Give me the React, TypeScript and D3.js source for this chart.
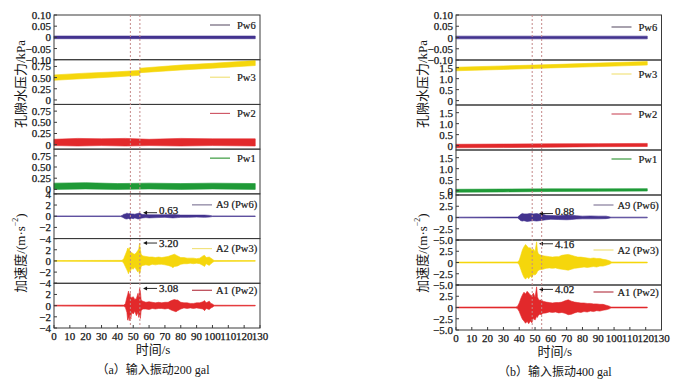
import React from 'react'
import * as d3 from 'd3'

// each row: time (s), lower envelope, upper envelope
type Row = [number, number, number]

const TIME_TICKS = [0, 10, 20, 30, 40, 50, 60, 70, 80, 90, 100, 110, 120, 130]
const MARKER_TIMES = [48.2, 54.2]

const PW6_TICKS = [-0.1, -0.05, 0, 0.05, 0.1]
const PW_TICKS_200 = [0, 0.25, 0.5, 0.75]
const PW_TICKS_400 = [0, 0.5, 1.0, 1.5]
const ACC_TICKS_200 = [-4, -2, 0, 2, 4]
const ACC_TICKS_400 = [-5, -2.5, 0, 2.5, 5]

const LEGENDS = ['Pw6', 'Pw3', 'Pw2', 'Pw1', 'A9 (Pw6)', 'A2 (Pw3)', 'A1 (Pw2)']
const PEAKS_200 = [0.63, 3.2, 3.08]
const PEAKS_400 = [0.88, 4.16, 4.02]

// ---- (a) 200 gal ----
const PW6_200: Row[] = [[0, -0.006, 0.006], [127, -0.006, 0.006]]
const PW3_200: Row[] = [[0, 0.44, 0.56], [20, 0.48, 0.6], [40, 0.52, 0.63], [54, 0.55, 0.66], [54.3, 0.61, 0.71], [80, 0.67, 0.78], [100, 0.71, 0.82], [127, 0.77, 0.88]]
const PW2_200: Row[] = [[0, -0.02, 0.12], [15, -0.03, 0.14], [30, -0.02, 0.13], [45, -0.03, 0.14], [60, -0.02, 0.12], [80, -0.03, 0.14], [100, -0.02, 0.13], [127, -0.03, 0.13]]
const PW1_200: Row[] = [[0, 0.0, 0.14], [20, 0.01, 0.15], [40, 0.0, 0.13], [60, 0.01, 0.14], [80, 0.0, 0.13], [100, 0.01, 0.14], [127, 0.0, 0.13]]
const A9_200: Row[] = [
  [0, -0.05, 0.05], [42, -0.06, 0.06], [43, -0.15, 0.15], [44, -0.3, 0.35], [45, -0.45, 0.4], [46, -0.5, 0.55],
  [47, -0.4, 0.45], [48, -0.55, 0.5], [49, -0.35, 0.4], [50, -0.45, 0.4], [51, -0.3, 0.35], [52, -0.4, 0.45],
  [53, -0.5, 0.5], [54, -0.45, 0.6], [55, -0.35, 0.4], [56, -0.3, 0.3], [58, -0.25, 0.3], [60, -0.3, 0.25],
  [65, -0.25, 0.25], [70, -0.2, 0.25], [75, -0.3, 0.3], [78, -0.25, 0.25], [80, -0.2, 0.2], [85, -0.2, 0.2],
  [90, -0.15, 0.2], [95, -0.2, 0.2], [98, -0.15, 0.15], [100, -0.06, 0.06], [127, -0.05, 0.05],
]
const A2_200: Row[] = [
  [0, -0.07, 0.07], [43, -0.1, 0.1], [44, -0.4, 0.4], [45, -1.0, 1.1], [46, -1.6, 1.8], [46.5, -1.9, 2.3],
  [47, -2.3, 2.0], [47.5, -1.7, 2.4], [48, -2.0, 1.6], [49, -1.3, 1.5], [50, -1.5, 1.3], [51, -1.1, 1.2],
  [52, -1.6, 1.5], [53, -2.0, 1.9], [53.5, -1.5, 2.2], [54, -2.4, 3.2], [54.5, -1.8, 2.0], [55, -1.0, 1.2],
  [56, -0.8, 0.9], [58, -0.7, 0.8], [60, -0.8, 0.7], [62, -0.6, 0.7], [64, -0.7, 0.6], [66, -0.6, 0.7],
  [68, -0.6, 0.6], [70, -0.7, 0.7], [72, -0.8, 0.8], [74, -1.0, 1.0], [75, -1.2, 1.1], [76, -1.0, 1.2],
  [78, -0.9, 0.9], [80, -0.6, 0.6], [82, -0.5, 0.6], [84, -0.5, 0.5], [86, -0.4, 0.5], [88, -0.5, 0.5],
  [90, -0.4, 0.4], [92, -0.5, 0.5], [94, -0.8, 0.9], [95, -1.0, 1.0], [96, -0.5, 0.6], [98, -0.8, 0.7],
  [99, -0.5, 0.5], [100, -0.3, 0.3], [101, -0.08, 0.08], [127, -0.06, 0.06],
]
const A1_200: Row[] = [
  [0, -0.08, 0.08], [44, -0.1, 0.1], [45, -0.3, 0.3], [46, -1.2, 1.5], [46.5, -2.6, 2.0], [47, -2.0, 2.6],
  [47.5, -2.7, 1.8], [48, -1.6, 2.2], [48.5, -2.4, 1.5], [49, -1.2, 1.4], [50, -1.5, 1.6], [51, -1.0, 1.1],
  [52, -1.8, 1.3], [53, -1.2, 2.2], [53.5, -2.1, 1.4], [54, -1.5, 3.08], [54.5, -2.3, 2.6], [55, -0.9, 1.0],
  [56, -0.6, 0.8], [58, -0.6, 0.6], [60, -0.7, 0.7], [62, -0.5, 0.6], [64, -0.6, 0.5], [66, -0.5, 0.6],
  [68, -0.5, 0.5], [70, -0.6, 0.6], [72, -0.5, 0.6], [74, -0.8, 0.9], [76, -1.0, 1.1], [77, -1.1, 1.0],
  [78, -0.9, 1.0], [80, -0.6, 0.6], [82, -0.4, 0.5], [84, -0.5, 0.5], [86, -0.4, 0.4], [88, -0.5, 0.4],
  [90, -0.4, 0.5], [92, -0.5, 0.5], [94, -0.6, 0.7], [95, -0.9, 0.9], [96, -0.5, 0.5], [98, -0.7, 0.8],
  [99, -0.4, 0.4], [100, -0.3, 0.3], [101, -0.08, 0.08], [127, -0.06, 0.06],
]

// ---- (b) 400 gal ----
const PW6_400: Row[] = [[0, -0.006, 0.006], [121, -0.006, 0.006]]
const PW3_400: Row[] = [[0, 1.36, 1.52], [30, 1.42, 1.58], [60, 1.49, 1.64], [90, 1.55, 1.71], [121, 1.62, 1.78]]
const PW2_400: Row[] = [[0, -0.1, 0.06], [30, -0.09, 0.07], [60, -0.07, 0.08], [90, -0.05, 0.09], [121, -0.04, 0.1]]
const PW1_400: Row[] = [[0, -0.07, 0.06], [30, -0.06, 0.07], [60, -0.04, 0.08], [90, -0.03, 0.08], [121, -0.02, 0.09]]
const A9_400: Row[] = [
  [0, -0.08, 0.08], [39, -0.1, 0.1], [40, -0.4, 0.4], [41, -0.7, 0.7], [42, -0.8, 0.9], [43, -0.7, 0.8],
  [45, -0.9, 0.8], [47, -0.8, 0.9], [49, -0.7, 0.8], [51, -0.8, 0.88], [53, -0.7, 0.7], [55, -0.6, 0.7],
  [57, -0.5, 0.5], [60, -0.4, 0.45], [65, -0.45, 0.4], [70, -0.5, 0.55], [73, -0.45, 0.5], [76, -0.35, 0.4],
  [80, -0.3, 0.3], [85, -0.3, 0.35], [90, -0.3, 0.3], [95, -0.25, 0.3], [97, -0.15, 0.15], [98, -0.08, 0.08],
  [121, -0.08, 0.08],
]
const A2_400: Row[] = [
  [0, -0.1, 0.1], [39, -0.12, 0.12], [40, -0.5, 0.5], [41, -1.5, 1.6], [42, -2.5, 2.8], [43, -3.3, 3.5],
  [44, -3.7, 4.0], [45, -3.2, 3.6], [46, -3.6, 3.2], [47, -3.0, 3.3], [48, -3.4, 2.7], [49, -2.6, 3.0],
  [50, -2.8, 2.4], [51, -2.4, 4.6], [51.5, -2.0, 2.6], [52, -1.8, 2.0], [53, -1.6, 1.7], [55, -1.5, 1.5],
  [57, -1.3, 1.4], [59, -1.2, 1.3], [61, -1.3, 1.2], [63, -1.2, 1.3], [65, -1.4, 1.3], [67, -1.5, 1.6],
  [69, -1.6, 1.7], [71, -1.7, 1.8], [73, -1.5, 1.6], [75, -1.3, 1.4], [77, -1.2, 1.2], [79, -1.1, 1.2],
  [81, -1.0, 1.1], [83, -1.1, 1.0], [85, -1.0, 0.9], [87, -0.9, 1.0], [89, -1.0, 0.9], [91, -0.8, 0.9],
  [93, -0.8, 0.7], [95, -0.6, 0.6], [97, -0.4, 0.4], [98.5, -0.12, 0.12], [121, -0.1, 0.1],
]
const A1_400: Row[] = [
  [0, -0.1, 0.1], [38, -0.12, 0.12], [39, -0.3, 0.3], [40, -0.9, 1.0], [41, -1.8, 2.0], [42, -2.6, 2.8],
  [43, -3.0, 3.4], [44, -3.5, 3.0], [45, -3.1, 3.6], [46, -3.6, 3.2], [47, -3.0, 2.8], [48, -3.4, 2.6],
  [49, -2.4, 3.2], [50, -2.8, 2.2], [51, -2.0, 4.6], [51.5, -2.2, 2.4], [52, -1.8, 1.9], [53, -1.5, 1.6],
  [54, -1.6, 1.7], [55, -1.3, 1.4], [57, -1.2, 1.2], [59, -1.0, 1.1], [61, -1.1, 1.0], [63, -1.0, 1.1],
  [65, -1.2, 1.1], [67, -1.1, 1.2], [69, -1.3, 1.5], [71, -1.6, 1.7], [73, -1.5, 1.4], [75, -1.2, 1.2],
  [77, -1.0, 1.1], [79, -1.1, 1.0], [81, -0.9, 1.0], [83, -1.0, 0.9], [85, -0.8, 0.9], [87, -0.9, 0.8],
  [89, -0.7, 0.8], [91, -0.8, 0.7], [93, -0.6, 0.7], [95, -0.5, 0.5], [97, -0.3, 0.3], [98, -0.1, 0.1],
  [121, -0.1, 0.1],
]

const PURPLE = '#43338f'
const YELLOW = '#f5d60c'
const RED = '#e2292b'
const GREEN = '#1f9a37'
const SERIES_COLORS = [PURPLE, YELLOW, RED, GREEN, PURPLE, YELLOW, RED]
const LEGEND_COLORS = ['#6e6478', '#f1e27e', '#cf5a68', '#3b9a3f', '#857c9b', '#f1e27e', '#b8404e']

const SERIF = "'Liberation Serif', 'Times New Roman', 'Noto Sans CJK SC', serif"
const FRAME = '#3a3a3a'
const INK = '#151515'

interface PanelSpec {
  data: Row[]
  domain: [number, number]
  ticks: number[]
  dec: number
  legendDy: number
  hideTop?: boolean
}

interface ChartSpec {
  x0: number
  x1: number
  top: number
  bottom: number
  panels: PanelSpec[]
  peaks: number[]
  peakTime: number
  tag: string
  amp: string
  labelX: number
}

const fmt = (v: number, dec: number) => (v === 0 ? '0' : v.toFixed(dec).replace('-', '−'))

const CHARTS: ChartSpec[] = [
  {
    x0: 54, x1: 260, top: 15, bottom: 328, peakTime: 56.2, tag: 'a', amp: '200', labelX: 20,
    peaks: PEAKS_200,
    panels: [
      { data: PW6_200, domain: [-0.1, 0.1], ticks: PW6_TICKS, dec: 2, legendDy: 10 },
      { data: PW3_200, domain: [-0.1, 0.9], ticks: PW_TICKS_200, dec: 2, legendDy: 17.5 },
      { data: PW2_200, domain: [-0.1, 0.9], ticks: PW_TICKS_200, dec: 2, legendDy: 9 },
      { data: PW1_200, domain: [-0.1, 0.9], ticks: PW_TICKS_200, dec: 2, legendDy: 9 },
      { data: A9_200, domain: [-4, 4], ticks: ACC_TICKS_200, dec: 0, legendDy: 11 },
      { data: A2_200, domain: [-4, 4], ticks: ACC_TICKS_200, dec: 0, legendDy: 10, hideTop: true },
      { data: A1_200, domain: [-4, 4], ticks: ACC_TICKS_200, dec: 0, legendDy: 7, hideTop: true },
    ],
  },
  {
    x0: 456, x1: 661.5, top: 15, bottom: 330, peakTime: 52.5, tag: 'b', amp: '400', labelX: 422,
    peaks: PEAKS_400,
    panels: [
      { data: PW6_400, domain: [-0.1, 0.1], ticks: PW6_TICKS, dec: 2, legendDy: 12 },
      { data: PW3_400, domain: [-0.2, 1.85], ticks: PW_TICKS_400, dec: 1, legendDy: 14 },
      { data: PW2_400, domain: [-0.2, 1.85], ticks: PW_TICKS_400, dec: 1, legendDy: 9 },
      { data: PW1_400, domain: [-0.2, 1.85], ticks: PW_TICKS_400, dec: 1, legendDy: 9 },
      { data: A9_400, domain: [-5, 5], ticks: ACC_TICKS_400, dec: 1, legendDy: 10 },
      { data: A2_400, domain: [-5, 5], ticks: ACC_TICKS_400, dec: 1, legendDy: 10, hideTop: true },
      { data: A1_400, domain: [-5, 5], ticks: ACC_TICKS_400, dec: 1, legendDy: 7, hideTop: true },
    ],
  },
]

function Chart({ c }: { c: ChartSpec }) {
  const x = d3.scaleLinear().domain([0, 130]).range([c.x0, c.x1])
  const band = d3.scaleBand<number>().domain(d3.range(c.panels.length)).range([c.top, c.bottom])
  const h = band.bandwidth()
  const midX = (c.x0 + c.x1) / 2 - 4

  return (
    <g fontFamily={SERIF}>
      {c.panels.map((p, i) => {
        const py0 = band(i) as number
        const py1 = py0 + h
        const y = d3.scaleLinear().domain(p.domain).range([py1, py0])
        const area = d3.area<Row>().x(d => x(d[0])).y0(d => y(d[1])).y1(d => y(d[2]))
        const isAcc = i >= 4
        const legX = isAcc ? c.x1 - 68 : c.x1 - 50
        const legLen = 20
        const legTextX = isAcc ? c.x1 - 44 : c.x1 - 23
        const ly = py0 + p.legendDy
        const peakIdx = i - 4
        const topTick = p.ticks[p.ticks.length - 1]
        return (
          <g key={i}>
            <path d={area(p.data) || ''} fill={SERIES_COLORS[i]} stroke={SERIES_COLORS[i]} strokeWidth={0.6} />
            {p.ticks.map(t => (
              <g key={t}>
                <line x1={c.x0} x2={c.x0 + 3} y1={y(t)} y2={y(t)} stroke={FRAME} />
                {!(p.hideTop && t === topTick) && (
                  <text x={c.x0 - 3} y={y(t)} textAnchor="end" dominantBaseline="central" fontSize={11} fill={INK} stroke={INK} strokeWidth={0.25}>
                    {fmt(t, p.dec)}
                  </text>
                )}
              </g>
            ))}
            <line x1={legX} x2={legX + legLen} y1={ly} y2={ly} stroke={LEGEND_COLORS[i]} strokeWidth={1.2} />
            <text x={legTextX} y={ly} dominantBaseline="central" fontSize={10.5} fill={INK} stroke={INK} strokeWidth={0.2}>{LEGENDS[i]}</text>
            {isAcc && (
              <g>
                <line x1={x(c.peakTime) + 3} x2={x(c.peakTime) + 14} y1={y(c.peaks[peakIdx])} y2={y(c.peaks[peakIdx])} stroke={INK} strokeWidth={0.9} />
                <path d={`M${x(c.peakTime)},${y(c.peaks[peakIdx])} l4,-2 l0,4 z`} fill={INK} />
                <text x={x(c.peakTime) + 16} y={y(c.peaks[peakIdx]) - (peakIdx === 0 ? 3 : 0)} dominantBaseline="central" fontSize={11} fill={INK} stroke={INK} strokeWidth={0.25}>
                  {c.peaks[peakIdx].toFixed(2)}
                </text>
              </g>
            )}
            <rect x={c.x0} y={py0} width={c.x1 - c.x0} height={h} fill="none" stroke={FRAME} strokeWidth={1} />
          </g>
        )
      })}
      {MARKER_TIMES.map(t => (
        <line key={t} x1={x(t)} x2={x(t)} y1={c.top} y2={c.bottom} stroke="#c48888" strokeWidth={1} strokeDasharray="2,2" />
      ))}
      {TIME_TICKS.map(t => (
        <g key={t}>
          <line x1={x(t)} x2={x(t)} y1={c.bottom} y2={c.bottom - 3} stroke={FRAME} />
          <text x={x(t)} y={c.bottom + 12} textAnchor="middle" fontSize={11} fill={INK} stroke={INK} strokeWidth={0.25}>{t}</text>
        </g>
      ))}
      <text x={midX} y={c.bottom + 26} textAnchor="middle" fontSize={13} fill={INK}>时间/s</text>
      <text x={midX} y={c.bottom + 46} textAnchor="middle" fontSize={12} fill={INK}>
        （{c.tag}）输入振动{c.amp} gal
      </text>
      <text transform={`translate(${c.labelX},84) rotate(-90)`} textAnchor="middle" dominantBaseline="central" fontSize={13} fill={INK}>
        孔隙水压力/kPa
      </text>
      <text transform={`translate(${c.labelX},253) rotate(-90)`} textAnchor="middle" dominantBaseline="central" fontSize={13} fill={INK}>
        加速度/(m·s<tspan dy={-5} fontSize={8}>−2</tspan><tspan dy={5}>)</tspan>
      </text>
    </g>
  )
}

export default function App() {
  return (
    <svg width={677} height={385} style={{ position: 'absolute', left: 0, top: 0, background: '#fff' }}>
      {CHARTS.map(c => <Chart key={c.tag} c={c} />)}
    </svg>
  )
}
